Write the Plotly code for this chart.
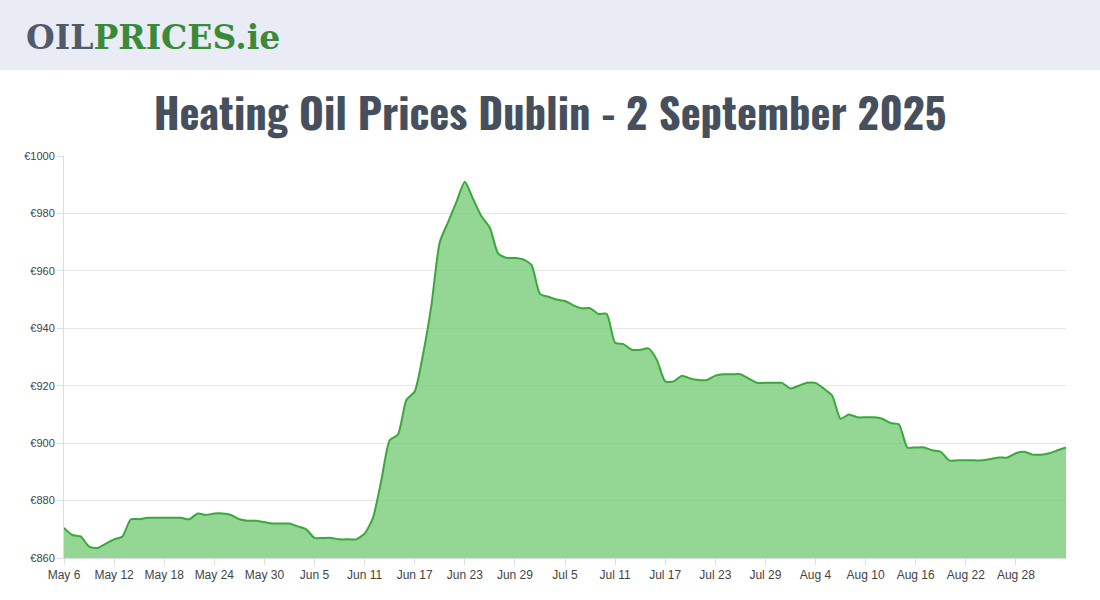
import plotly.graph_objects as go
import pandas as pd

dates = pd.date_range("2025-05-06", periods=121, freq="D")
labels = [d.strftime("%b ") + str(d.day) for d in dates]
prices = [870.5, 868, 867.5, 864, 863.5, 865, 866.5, 867.5, 873.5, 873.5,
          874, 874, 874, 874, 874, 873.5, 875.5, 875, 875.5, 875.5,
          875, 873.5, 873, 873, 872.5, 872, 872, 872, 871, 870,
          867, 867, 867, 866.5, 866.5, 866.5, 868.5, 874, 887, 901,
          903, 915, 918, 931, 948, 970, 977, 984, 991, 985,
          979, 975, 966, 964.5, 964.5, 964, 962, 952, 951, 950,
          949.5, 948, 947, 947, 945, 945, 935, 934.5, 932.5, 932.5,
          933, 929, 921.5, 921.5, 923.5, 922.5, 922, 922, 923.5, 924,
          924, 924, 922.5, 921, 921, 921, 921, 919, 920, 921,
          921, 919, 916.5, 908.5, 910, 909, 909, 909, 908.5, 907,
          906.5, 898.5, 898.5, 898.5, 897.5, 897, 894, 894, 894, 894,
          894, 894.5, 895, 895, 896.5, 897, 896, 896, 896.5, 897.5, 898.5]
tick_labels = labels[:-1:6]

fig = go.Figure(go.Scatter(
    x=labels, y=prices, mode="lines", line=dict(color="#3aa83a", width=2, shape="spline", smoothing=0.6),
    fill="tozeroy", fillcolor="rgba(112,200,112,0.75)", hoverinfo="x+y"))

fig.update_layout(
    width=1100, height=600, showlegend=False,
    paper_bgcolor="white", plot_bgcolor="white",
    margin=dict(l=64, r=34, t=156, b=42),
    title=dict(text="<b>Heating Oil Prices Dublin - 2 September 2025</b>", x=0.5, y=1 - 115 / 600,
               xanchor="center", yanchor="middle",
               font=dict(family="Oswald, Liberation Sans Narrow, Roboto", size=42.5, color="#454f5e")),
    font=dict(family="Liberation Sans, Arial", size=12, color="#333"),
)
fig.update_xaxes(type="category", tickvals=tick_labels, ticktext=tick_labels, showgrid=False,
                 showline=True, linecolor="#ddd", ticks="outside", tickcolor="#ddd", ticklen=6,
                 tickfont=dict(size=12, color="#444"), range=[0, 120])
fig.update_yaxes(range=[860, 1000], dtick=20, tickprefix="€", gridcolor="#e6e6e6",
                 showline=True, linecolor="#ddd", ticks="outside", tickcolor="#ddd", ticklen=6,
                 tickfont=dict(size=11, color="#444"), zeroline=False)

# header bar with logo
fig.add_shape(type="rect", xref="paper", yref="paper", x0=-64 / 1002, x1=1 + 34 / 1002,
              y0=(558 - 70) / 402, y1=(558 + 2) / 402, fillcolor="#e9ecf4", line_width=0, layer="below")
fig.add_annotation(xref="paper", yref="paper", x=-40 / 1002, y=(558 - 38) / 402, xanchor="left", yanchor="middle",
                   showarrow=False,
                   text="<b><span style='color:#515a6b'>OIL</span><span style='color:#3a8a3a'>PRICES.ie</span></b>",
                   font=dict(family="DejaVu Serif", size=33))

fig.write_html("out.html", config={"displayModeBar": False},
               post_script="document.body.style.margin='0';")
